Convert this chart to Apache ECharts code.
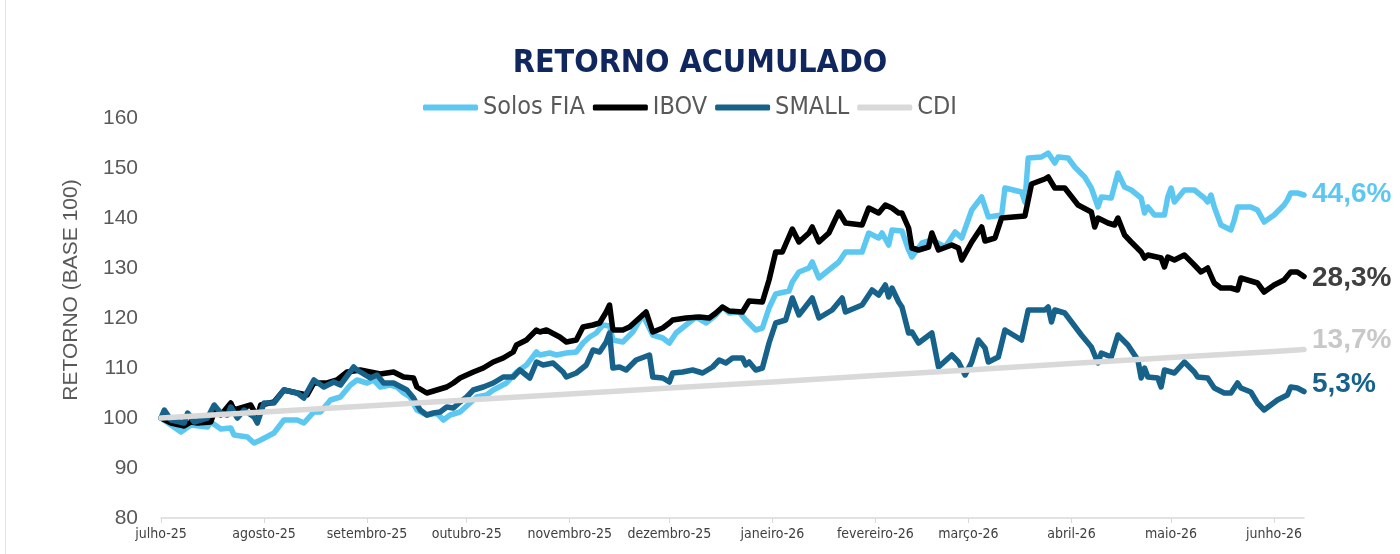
<!DOCTYPE html>
<html>
<head>
<meta charset="utf-8">
<script src="https://cdn.jsdelivr.net/npm/echarts@6/dist/echarts.min.js"></script>
<style>
html,body{margin:0;padding:0;background:#fff;}
#chart{width:1400px;height:554px;}
</style>
</head>
<body>
<div id="chart"></div>
<script>
var chartTitle = 'RETORNO ACUMULADO';
var seriesNames = ['Solos FIA', 'IBOV', 'SMALL', 'CDI'];
var endLabels = ['44,6%', '28,3%', '5,3%', '13,7%'];
var yTicks = [80, 90, 100, 110, 120, 130, 140, 150, 160];
var tickDates = ['2025-07-01','2025-08-01','2025-09-01','2025-10-01','2025-11-01','2025-12-01','2026-01-01','2026-02-01','2026-03-01','2026-04-01','2026-05-01','2026-06-01'];
var tickLabels = ['julho-25','agosto-25','setembro-25','outubro-25','novembro-25','dezembro-25','janeiro-26','fevereiro-26','março-26','abril-26','maio-26','junho-26'];
var xStart = '2025-07-01';
var xEnd = '2026-06-10';

var solosFia = [
['2025-07-01',100],['2025-07-04',98.6],['2025-07-07',97.2],['2025-07-10',98.6],['2025-07-15',98.2],['2025-07-16',99.2],['2025-07-19',97.8],['2025-07-22',98],['2025-07-23',96.6],['2025-07-27',96.2],['2025-07-29',95],['2025-07-31',95.6],['2025-08-04',97],['2025-08-07',99.6],['2025-08-11',99.6],['2025-08-13',99],['2025-08-16',101.2],['2025-08-18',101.2],['2025-08-21',103.6],['2025-08-24',104.2],['2025-08-27',106.6],['2025-08-29',107.6],['2025-09-01',107],['2025-09-03',107.6],['2025-09-05',106.2],['2025-09-08',106.6],['2025-09-10',106.2],['2025-09-12',105],['2025-09-14',104.2],['2025-09-16',101.6],['2025-09-19',100.6],['2025-09-22',101],['2025-09-24',99.6],['2025-09-26',100.6],['2025-09-29',101.2],['2025-10-02',103],['2025-10-04',104.2],['2025-10-07',104.6],['2025-10-09',105.6],['2025-10-13',107],['2025-10-16',109.2],['2025-10-19',110.6],['2025-10-22',113.2],['2025-10-23',112.6],['2025-10-26',113],['2025-10-28',112.6],['2025-10-31',113],['2025-11-03',113.2],['2025-11-05',115],['2025-11-07',116.2],['2025-11-09',117],['2025-11-11',118.6],['2025-11-13',118.4],['2025-11-14',115.6],['2025-11-17',115.2],['2025-11-20',117.2],['2025-11-23',120.6],['2025-11-26',116.6],['2025-11-29',116],['2025-12-01',115],['2025-12-03',117],['2025-12-06',118.6],['2025-12-09',120.2],['2025-12-12',119],['2025-12-15',120.6],['2025-12-17',122.2],['2025-12-19',121],['2025-12-22',121.2],['2025-12-24',119.6],['2025-12-27',117.6],['2025-12-29',118],['2025-12-31',122],['2026-01-02',124.8],['2026-01-06',125.4],['2026-01-07',127.2],['2026-01-09',129.2],['2026-01-12',130],['2026-01-13',131.2],['2026-01-15',128],['2026-01-18',129.6],['2026-01-21',131.2],['2026-01-23',133.2],['2026-01-28',133.2],['2026-01-30',137],['2026-02-02',136],['2026-02-03',137],['2026-02-05',134.6],['2026-02-06',137.6],['2026-02-09',137.4],['2026-02-11',133.6],['2026-02-12',132.2],['2026-02-15',135],['2026-02-18',135.6],['2026-02-22',134.2],['2026-02-25',137.2],['2026-02-27',136],['2026-03-02',141.6],['2026-03-05',144.2],['2026-03-07',140.2],['2026-03-11',140.6],['2026-03-12',146],['2026-03-17',145.2],['2026-03-18',143.2],['2026-03-19',152],['2026-03-23',152.2],['2026-03-25',153],['2026-03-27',151],['2026-03-28',152.2],['2026-03-31',152],['2026-04-02',150.2],['2026-04-05',148.2],['2026-04-07',146],['2026-04-09',142.2],['2026-04-10',144.2],['2026-04-13',144],['2026-04-15',149],['2026-04-17',146.2],['2026-04-19',145.6],['2026-04-22',144],['2026-04-23',141],['2026-04-24',142.2],['2026-04-26',140.6],['2026-04-29',140.6],['2026-04-30',144.2],['2026-05-01',146],['2026-05-02',143.2],['2026-05-05',145.6],['2026-05-08',145.6],['2026-05-11',144],['2026-05-12',143.2],['2026-05-13',144.6],['2026-05-14',142.2],['2026-05-16',138.6],['2026-05-19',137.6],['2026-05-20',139.6],['2026-05-21',142.2],['2026-05-25',142.2],['2026-05-27',141.6],['2026-05-29',139.2],['2026-06-01',140.6],['2026-06-04',142.6],['2026-06-05',143.6],['2026-06-06',145],['2026-06-08',145],['2026-06-10',144.6]
];

var ibov = [
['2025-07-01',100],['2025-07-04',99],['2025-07-08',98.4],['2025-07-10',99.2],['2025-07-12',99],['2025-07-16',99.2],['2025-07-17',101.2],['2025-07-19',100.6],['2025-07-22',103],['2025-07-23',101.6],['2025-07-26',102.2],['2025-07-28',102.6],['2025-07-30',100.2],['2025-07-31',102.6],['2025-08-04',103.2],['2025-08-07',105.6],['2025-08-11',105],['2025-08-14',104.6],['2025-08-16',107],['2025-08-20',107],['2025-08-23',107.6],['2025-08-26',109.2],['2025-08-30',109.6],['2025-09-02',109.2],['2025-09-05',108.8],['2025-09-09',109.2],['2025-09-12',108.2],['2025-09-15',108],['2025-09-16',106.2],['2025-09-19',105],['2025-09-22',105.6],['2025-09-25',106.2],['2025-09-27',107],['2025-09-29',108],['2025-10-03',109.2],['2025-10-06',110],['2025-10-09',111.2],['2025-10-12',112],['2025-10-15',113.2],['2025-10-16',114.6],['2025-10-19',115.6],['2025-10-22',117.6],['2025-10-23',117.2],['2025-10-25',117.6],['2025-10-29',116.2],['2025-10-31',115.2],['2025-11-03',115.6],['2025-11-05',118.2],['2025-11-08',118.6],['2025-11-10',119],['2025-11-12',121.2],['2025-11-13',122.6],['2025-11-14',117.6],['2025-11-17',117.6],['2025-11-19',118.2],['2025-11-22',120],['2025-11-24',121.2],['2025-11-26',117.2],['2025-11-29',118],['2025-12-01',119],['2025-12-02',119.6],['2025-12-06',120],['2025-12-10',120.2],['2025-12-13',120],['2025-12-15',121],['2025-12-17',122.2],['2025-12-19',121.4],['2025-12-23',121.2],['2025-12-25',123.4],['2025-12-29',123.2],['2025-12-31',127.6],['2026-01-02',133.2],['2026-01-04',133.2],['2026-01-07',137.8],['2026-01-09',135.2],['2026-01-12',137],['2026-01-13',138.2],['2026-01-15',135.2],['2026-01-18',137],['2026-01-21',141.2],['2026-01-23',139],['2026-01-28',138.6],['2026-01-30',142],['2026-02-02',141],['2026-02-04',142.6],['2026-02-06',142],['2026-02-08',141],['2026-02-09',141],['2026-02-11',138],['2026-02-12',134],['2026-02-14',133.6],['2026-02-17',134.2],['2026-02-18',137],['2026-02-20',133.6],['2026-02-24',134.6],['2026-02-26',134],['2026-02-27',131.6],['2026-03-02',135.2],['2026-03-05',138.2],['2026-03-06',135.4],['2026-03-09',136],['2026-03-11',140],['2026-03-18',140.4],['2026-03-20',146.8],['2026-03-24',147.8],['2026-03-25',148.2],['2026-03-27',146],['2026-03-30',146],['2026-04-03',142.6],['2026-04-07',141.2],['2026-04-08',138.2],['2026-04-09',140],['2026-04-12',139],['2026-04-14',138.6],['2026-04-15',140],['2026-04-17',136.6],['2026-04-19',135.2],['2026-04-22',133.2],['2026-04-23',132],['2026-04-24',132.6],['2026-04-28',132],['2026-04-29',130.2],['2026-04-30',132.2],['2026-05-02',131.6],['2026-05-05',132.6],['2026-05-08',130.6],['2026-05-10',129.2],['2026-05-12',130],['2026-05-14',127],['2026-05-16',126],['2026-05-19',126],['2026-05-21',125.6],['2026-05-22',128],['2026-05-24',127.6],['2026-05-27',127],['2026-05-29',125.2],['2026-06-01',126.6],['2026-06-04',127.6],['2026-06-06',129.2],['2026-06-08',129.2],['2026-06-10',128.3]
];

var small = [
['2025-07-01',100],['2025-07-02',101.6],['2025-07-04',99.6],['2025-07-08',99],['2025-07-09',101],['2025-07-11',99.2],['2025-07-15',100],['2025-07-17',102.6],['2025-07-19',101],['2025-07-21',100.6],['2025-07-22',102.2],['2025-07-24',100],['2025-07-26',101.6],['2025-07-29',100.2],['2025-07-30',99],['2025-08-01',103],['2025-08-04',103],['2025-08-07',105.6],['2025-08-11',105],['2025-08-13',104],['2025-08-16',107.6],['2025-08-19',106.2],['2025-08-22',107.2],['2025-08-24',106.6],['2025-08-28',110.2],['2025-08-29',109.6],['2025-09-02',108],['2025-09-04',108.6],['2025-09-06',107],['2025-09-09',107],['2025-09-13',105.6],['2025-09-15',104],['2025-09-17',101.6],['2025-09-19',100.6],['2025-09-21',101],['2025-09-23',101.2],['2025-09-25',102.2],['2025-09-27',102],['2025-09-29',103.2],['2025-10-01',104.2],['2025-10-03',105.6],['2025-10-06',106.2],['2025-10-09',107],['2025-10-12',108.2],['2025-10-15',108.2],['2025-10-17',109.6],['2025-10-20',108],['2025-10-22',111.2],['2025-10-24',110.6],['2025-10-27',111],['2025-10-30',109.2],['2025-10-31',108.2],['2025-11-03',109],['2025-11-06',110.6],['2025-11-08',113.6],['2025-11-10',113.2],['2025-11-12',115.2],['2025-11-13',117],['2025-11-14',110],['2025-11-16',110.2],['2025-11-18',109.6],['2025-11-21',111.6],['2025-11-25',112.6],['2025-11-26',108.2],['2025-11-29',108],['2025-12-01',107.2],['2025-12-02',109],['2025-12-05',109.2],['2025-12-08',109.6],['2025-12-11',109],['2025-12-14',110.2],['2025-12-16',111.6],['2025-12-18',111],['2025-12-20',112],['2025-12-23',112],['2025-12-24',110.6],['2025-12-25',111.2],['2025-12-27',109.6],['2025-12-29',110],['2025-12-31',115],['2026-01-02',119],['2026-01-05',119.6],['2026-01-07',124],['2026-01-09',120.6],['2026-01-13',124],['2026-01-15',120],['2026-01-19',121.6],['2026-01-22',124],['2026-01-23',121.2],['2026-01-28',122.6],['2026-01-31',125.6],['2026-02-02',124.6],['2026-02-04',126.6],['2026-02-05',124.2],['2026-02-06',126],['2026-02-08',123.2],['2026-02-09',122.2],['2026-02-11',117],['2026-02-12',117.2],['2026-02-14',115],['2026-02-18',117],['2026-02-20',110.2],['2026-02-24',112.6],['2026-02-26',111.2],['2026-02-28',108.6],['2026-03-02',111.2],['2026-03-04',115.6],['2026-03-06',114],['2026-03-07',111.2],['2026-03-10',112.2],['2026-03-12',117.6],['2026-03-17',115.6],['2026-03-19',121.6],['2026-03-24',121.6],['2026-03-25',122.2],['2026-03-26',119.2],['2026-03-27',121.6],['2026-03-30',121],['2026-04-04',116.6],['2026-04-07',114.2],['2026-04-09',111],['2026-04-10',113],['2026-04-13',112.2],['2026-04-15',116.6],['2026-04-18',114.6],['2026-04-21',111.6],['2026-04-22',108],['2026-04-23',110],['2026-04-24',108.2],['2026-04-27',108],['2026-04-28',106.2],['2026-04-29',109.6],['2026-05-02',109],['2026-05-05',111.2],['2026-05-08',109.2],['2026-05-09',108.2],['2026-05-12',108],['2026-05-14',106],['2026-05-17',105],['2026-05-19',105],['2026-05-21',107],['2026-05-22',106],['2026-05-25',105.2],['2026-05-27',103],['2026-05-29',101.6],['2026-06-02',103.6],['2026-06-05',104.6],['2026-06-06',106.2],['2026-06-08',106],['2026-06-10',105.3]
];

var cdi = [
['2025-07-01',100],['2025-08-01',101.2],['2025-09-01',102.4],['2025-10-01',103.6],['2025-11-01',104.8],['2025-12-01',106.0],['2026-01-01',107.2],['2026-02-01',108.5],['2026-03-01',109.6],['2026-04-01',110.9],['2026-05-01',112.1],['2026-06-01',113.3],['2026-06-10',113.7]
];

var colors = ['#5CC8F2', '#000000', '#17628A', '#D9D9D9'];
var labelColors = ['#5CC8F2', '#404040', '#17628A', '#C8C8C8'];
var labelOffsets = [[0, -1], [0, 2], [0, -7], [0, -9]];

function toTime(d) { return echarts.time.parse(d).getTime(); }
var tickTimes = tickDates.map(toTime);
var narrow = '"DejaVu Sans Condensed", "DejaVu Sans", sans-serif';
var sans = '"Liberation Sans", Arial, sans-serif';

var allData = [solosFia, ibov, small, cdi];
var series = allData.map(function (data, i) {
  return {
    name: seriesNames[i],
    type: 'line',
    data: data.map(function (p) { return [toTime(p[0]), p[1]]; }),
    showSymbol: false,
    symbol: 'none',
    smooth: false,
    lineStyle: { color: colors[i], width: 5.5, cap: 'round', join: 'round' },
    itemStyle: { color: colors[i] },
    endLabel: {
      show: true,
      formatter: endLabels[i],
      color: labelColors[i],
      fontSize: 28,
      fontWeight: 'bold',
      fontFamily: sans,
      distance: 8,
      offset: labelOffsets[i]
    },
    z: 2 + i
  };
});

var chart = echarts.init(document.getElementById('chart'), null, { renderer: 'canvas' });
chart.setOption({
  animation: false,
  backgroundColor: '#ffffff',
  title: {
    text: chartTitle,
    left: 'center',
    top: 43,
    textStyle: { fontFamily: narrow, fontSize: 32, fontWeight: 'bold', color: '#10265E' }
  },
  legend: {
    data: seriesNames,
    left: 418,
    top: 90,
    icon: 'roundRect',
    itemWidth: 55,
    itemHeight: 6,
    itemGap: 8,
    textStyle: { fontFamily: narrow, fontSize: 25, color: '#595959' }
  },
  grid: { left: 161, right: 96, top: 118, bottom: 36, containLabel: false },
  xAxis: {
    type: 'value',
    min: toTime(xStart),
    max: toTime(xEnd),
    axisLine: { show: true, lineStyle: { color: '#D9D9D9', width: 1.5 } },
    axisTick: { show: true, customValues: tickTimes, length: 5, lineStyle: { color: '#D9D9D9' } },
    axisLabel: {
      customValues: tickTimes,
      fontFamily: narrow,
      fontSize: 14,
      color: '#404040',
      margin: 9,
      formatter: function (v) {
        var best = 0, bd = Infinity;
        for (var k = 0; k < tickTimes.length; k++) {
          var dd = Math.abs(tickTimes[k] - v);
          if (dd < bd) { bd = dd; best = k; }
        }
        return tickLabels[best];
      }
    },
    splitLine: { show: false }
  },
  yAxis: {
    type: 'value',
    min: yTicks[0],
    max: yTicks[yTicks.length - 1],
    interval: 10,
    name: 'RETORNO (BASE 100)',
    nameLocation: 'middle',
    nameGap: 79,
    nameTextStyle: { fontFamily: sans, fontSize: 21, color: '#595959', padding: [0, 0, 0, 56] },
    axisLine: { show: false },
    axisTick: { show: false },
    splitLine: { show: false },
    axisLabel: { fontFamily: sans, fontSize: 21, color: '#595959', margin: 23 }
  },
  graphic: [{
    type: 'line',
    shape: { x1: 5.5, y1: 0, x2: 5.5, y2: 554 },
    style: { stroke: '#E3E3E3', lineWidth: 1 },
    silent: true
  }],
  series: series
});
</script>
</body>
</html>
